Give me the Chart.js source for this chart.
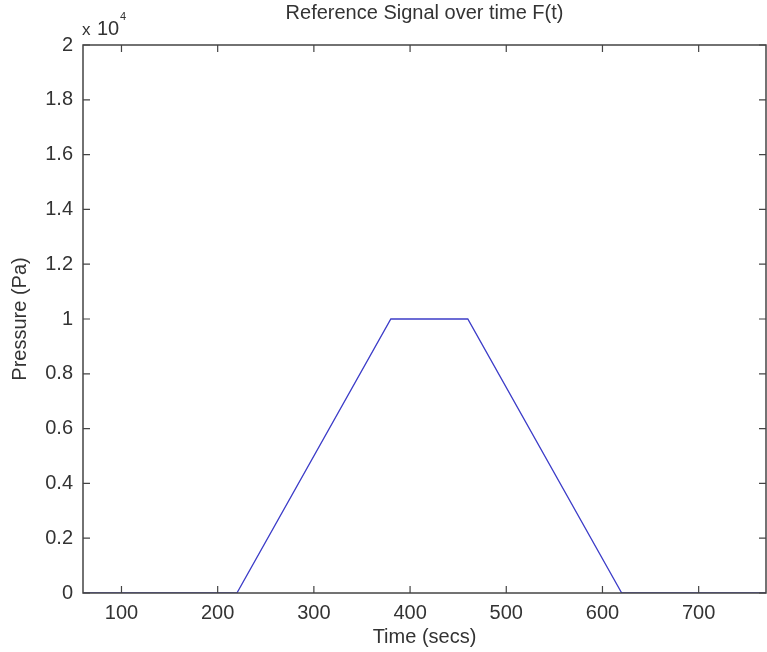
<!DOCTYPE html>
<html>
<head>
<meta charset="utf-8">
<script src="https://cdn.jsdelivr.net/npm/chart.js@4.4.1/dist/chart.umd.min.js"></script>
<style>
  html, body { margin: 0; padding: 0; background: #fff; }
  #wrap { width: 767px; height: 652px; position: relative; }
</style>
</head>
<body>
<div id="wrap"><canvas id="chart"></canvas></div>
<script>
// reference signal (time in secs, pressure in Pa)
const timeSecs = [60, 220, 380, 460, 620, 770];
const pressurePa = [0, 0, 10000, 10000, 0, 0];

const xTicks = [100, 200, 300, 400, 500, 600, 700];
const yTicks = [0, 2000, 4000, 6000, 8000, 10000, 12000, 14000, 16000, 18000, 20000];
const yTickLabels = ['0', '0.2', '0.4', '0.6', '0.8', '1', '1.2', '1.4', '1.6', '1.8', '2'];

const FONT = 'Liberation Sans, Arial, sans-serif';
const TEXT = '#333';

// matlab style box + inward ticks + exponent label
const boxPlugin = {
    id: 'box',
    afterDraw(chart) {
        const { ctx, chartArea: a, scales } = chart;
        const tl = 7;
        ctx.save();
        ctx.strokeStyle = '#444';
        ctx.lineWidth = 1.5;
        ctx.strokeRect(a.left, a.top, a.right - a.left, a.bottom - a.top);
        ctx.lineWidth = 1.2;
        ctx.beginPath();
        xTicks.forEach(v => {
            const px = scales.x.getPixelForValue(v);
            ctx.moveTo(px, a.bottom); ctx.lineTo(px, a.bottom - tl);
            ctx.moveTo(px, a.top); ctx.lineTo(px, a.top + tl);
        });
        yTicks.forEach(v => {
            const py = scales.y.getPixelForValue(v);
            ctx.moveTo(a.left, py); ctx.lineTo(a.left + tl, py);
            ctx.moveTo(a.right, py); ctx.lineTo(a.right - tl, py);
        });
        ctx.stroke();

        ctx.fillStyle = TEXT;
        ctx.textBaseline = 'alphabetic';
        ctx.font = '17px ' + FONT;
        ctx.fillText('x', 82, 35);
        ctx.font = '20px ' + FONT;
        ctx.fillText('10', 97, 35);
        ctx.font = '11px ' + FONT;
        ctx.fillText('4', 120, 20);
        ctx.restore();
    }
};

new Chart(document.getElementById('chart'), {
    type: 'line',
    data: {
        datasets: [{
            data: timeSecs.map((t, i) => ({ x: t, y: pressurePa[i] })),
            borderColor: '#3c3cc8',
            borderWidth: 1.3,
            pointRadius: 0,
            tension: 0,
            fill: false
        }]
    },
    options: {
        responsive: true,
        maintainAspectRatio: false,
        animation: false,
        layout: { padding: { left: 0, right: 1, top: 0, bottom: 0 } },
        plugins: {
            legend: { display: false },
            tooltip: { enabled: false },
            title: {
                display: true,
                text: 'Reference Signal over time F(t)',
                fullSize: false,
                color: TEXT,
                font: { family: FONT, size: 20, weight: 'normal' },
                padding: { top: 1, bottom: 20 }
            }
        },
        scales: {
            x: {
                type: 'linear',
                min: 60,
                max: 770,
                grid: { display: false, drawTicks: false },
                border: { display: false },
                afterBuildTicks: s => { s.ticks = xTicks.map(v => ({ value: v })); },
                afterFit: s => { s.height = 59; },
                ticks: {
                    color: TEXT,
                    font: { family: FONT, size: 20 },
                    padding: 8,
                    maxRotation: 0
                },
                title: {
                    display: true,
                    text: 'Time (secs)',
                    color: TEXT,
                    font: { family: FONT, size: 20 },
                    padding: { top: 0, bottom: 3 }
                }
            },
            y: {
                min: 0,
                max: 20000,
                grid: { display: false, drawTicks: false },
                border: { display: false },
                afterBuildTicks: s => { s.ticks = yTicks.map(v => ({ value: v })); },
                afterFit: s => { s.width = 83; },
                ticks: {
                    color: TEXT,
                    font: { family: FONT, size: 20 },
                    padding: 10,
                    callback: v => yTickLabels[yTicks.indexOf(v)]
                },
                title: {
                    display: true,
                    text: 'Pressure (Pa)',
                    color: TEXT,
                    font: { family: FONT, size: 20 },
                    padding: { top: 8, bottom: 0 }
                }
            }
        }
    },
    plugins: [boxPlugin]
});
</script>
</body>
</html>
